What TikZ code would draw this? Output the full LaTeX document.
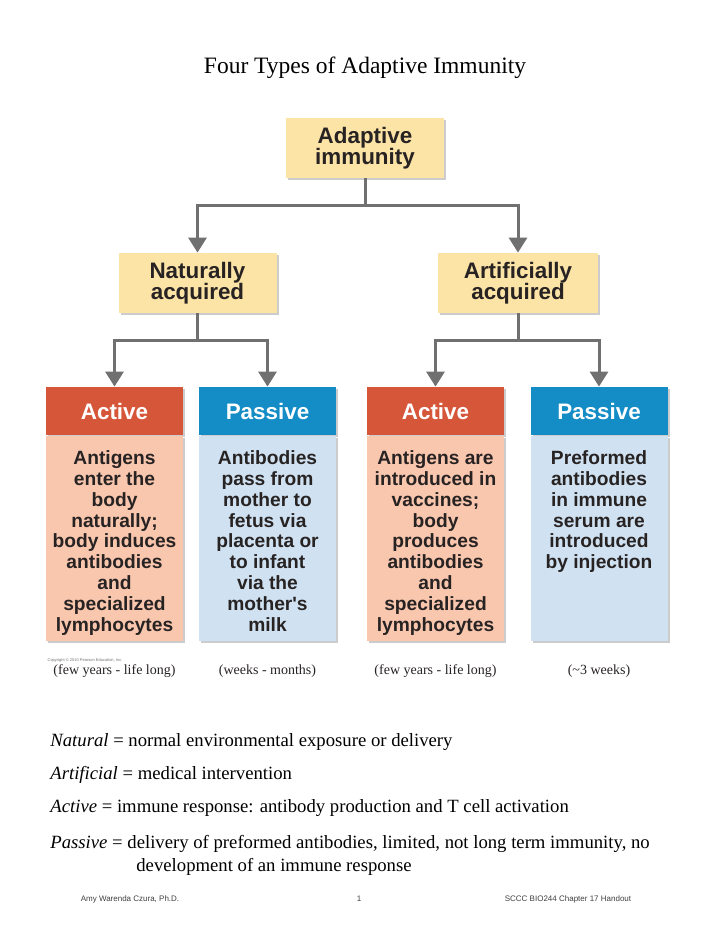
\documentclass[tikz,border=0pt]{standalone}
\usepackage{fontspec}
\setmainfont{Liberation Serif}
\setsansfont{Liberation Sans}
\usetikzlibrary{positioning, arrows.meta, shadows}
\definecolor{boxyellow}{RGB}{252,227,166}
\definecolor{actred}{RGB}{214,86,58}
\definecolor{actpink}{RGB}{249,198,174}
\definecolor{pasblue}{RGB}{20,140,198}
\definecolor{paslight}{RGB}{208,226,242}
\definecolor{linegray}{RGB}{112,112,112}
\definecolor{inkgray}{RGB}{40,35,35}
\tikzset{
	groupbox/.style={rectangle, inner sep=0pt, minimum width=79pt, minimum height=30pt, fill=boxyellow, text=inkgray, align=center, font=\sffamily\bfseries\fontsize{11.2}{10.6}\selectfont, drop shadow={shadow xshift=1.2pt, shadow yshift=-1.2pt, opacity=0.2, fill=black}},
	acthead/.style={rectangle, inner sep=0pt, minimum width=68.5pt, minimum height=24pt, fill=actred, text=white, font=\sffamily\bfseries\fontsize{11.2}{12}\selectfont, drop shadow={shadow xshift=1.2pt, shadow yshift=-1.2pt, opacity=0.2, fill=black}},
	pashead/.style={acthead, fill=pasblue},
	actpanel/.style={rectangle, inner sep=0pt, minimum width=68.5pt, minimum height=102.5pt, fill=actpink, drop shadow={shadow xshift=1.2pt, shadow yshift=-1.2pt, opacity=0.2, fill=black}},
	paspanel/.style={actpanel, fill=paslight},
	% text inside the coloured panels
	paneltext/.style={inner sep=0pt, align=center, text=inkgray, font=\sffamily\bfseries\fontsize{9.6}{10.4}\selectfont},
	duration/.style={inner sep=0pt, text=inkgray, font=\fontsize{7}{8}\selectfont},
	defline/.style={anchor=base west, inner sep=0pt, align=left, font=\fontsize{9.35}{11.5}\selectfont},
	footer/.style={inner sep=0pt, text=black!75, font=\sffamily\fontsize{4}{5}\selectfont},
}

\begin{document}
\begin{tikzpicture}[x=0.5pt, y=-0.5pt]
\fill[white] (0,0) rectangle (720,931);
\useasboundingbox (0,0) rectangle (720,931);

\node (title) at (365,68) [font=\fontsize{11.75}{14}\selectfont] {Four Types of Adaptive Immunity};

\node (adaptive) [groupbox] at (365,148) {Adaptive\\immunity};
\node (natural) [groupbox] at (197.5,283) {Naturally\\acquired};
\node (artificial) [groupbox, minimum width=80pt] at (518,283) {Artificially\\acquired};

\coordinate (splitA) at (adaptive.south |- 0,205);
\coordinate (splitN) at (natural.south |- 0,340);
\coordinate (splitR) at (artificial.south |- 0,340);

% naturally acquired
\node (hdA1) [acthead] at (114.5,411) {Active};
\node (pnA1) [actpanel, below=0pt of hdA1] {};
\node (txA1) [paneltext, below=7.5pt of pnA1.north] {Antigens\\enter the\\body\\naturally;\\body induces\\antibodies\\and\\specialized\\lymphocytes};

\node (hdP1) [pashead] at (267.5,411) {Passive};
\node (pnP1) [paspanel, below=0pt of hdP1] {};
\node (txP1) [paneltext, below=7.5pt of pnP1.north] {Antibodies\\pass from\\mother to\\fetus via\\placenta or\\to infant\\via the\\mother\textquotesingle s\\milk};

% artificially acquired
\node (hdA2) [acthead] at (435.5,411) {Active};
\node (pnA2) [actpanel, below=0pt of hdA2] {};
\node (txA2) [paneltext, below=7.5pt of pnA2.north] {Antigens are\\introduced in\\vaccines;\\body\\produces\\antibodies\\and\\specialized\\lymphocytes};

\node (hdP2) [pashead] at (599,411) {Passive};
\node (pnP2) [paspanel, below=0pt of hdP2] {};
\node (txP2) [paneltext, below=7.5pt of pnP2.north] {Preformed\\antibodies\\in immune\\serum are\\introduced\\by injection};

\node (copy) [inner sep=0pt, text=black!55, font=\sffamily\fontsize{2}{2.5}\selectfont] at (85,660) {Copyright \textcopyright{} 2010 Pearson Education, Inc.};

\node (durA1) [duration, below=11.5pt of pnA1] {(few years - life long)};
\node (durP1) [duration, below=11.5pt of pnP1] {(weeks - months)};
\node (durA2) [duration, below=11.5pt of pnA2] {(few years - life long)};
\node (durP2) [duration, below=11.5pt of pnP2] {(\textasciitilde3 weeks)};

\begin{scope}[line width=1.5pt, linegray, ->, >={Triangle[width=9pt,length=7.5pt]}]
	\draw[-] (adaptive.south) -- (splitA);
	\draw (splitA) -| (natural.north);
	\draw (splitA) -| (artificial.north);
	\draw[-] (natural.south) -- (splitN);
	\draw (splitN) -| (hdA1.north);
	\draw (splitN) -| (hdP1.north);
	\draw[-] (artificial.south) -- (splitR);
	\draw (splitR) -| (hdA2.north);
	\draw (splitR) -| (hdP2.north);
\end{scope}

\node (defN) [defline] at (50,746) {\textit{Natural} = normal environmental exposure or delivery};
\node (defR) [defline] at (50,779) {\textit{Artificial} = medical intervention};
\node (defA) [defline] at (50,812) {\textit{Active} = immune response: antibody production and T cell activation};
\node (defP) [defline] at (50,871) {\textit{Passive} = delivery of preformed antibodies, limited, not long term immunity, no\\\hspace*{43pt}development of an immune response};

\node (author) [footer] at (130,899) {Amy Warenda Czura, Ph.D.};
\node (page) [footer] at (359,899) {1};
\node (course) [footer] at (568,899) {SCCC BIO244 Chapter 17 Handout};
\end{tikzpicture}
\end{document}
